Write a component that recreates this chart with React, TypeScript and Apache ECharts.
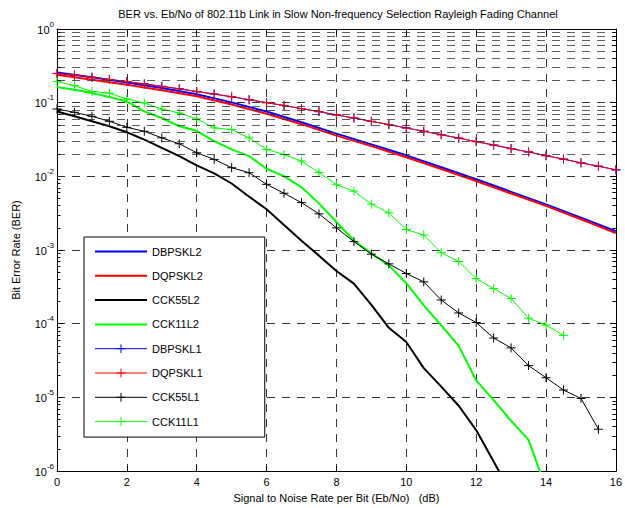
import React, { useEffect, useRef } from 'react';
import * as echarts from 'echarts';

const FONT = 'Liberation Sans, Arial, Helvetica, sans-serif';

const titleText = 'BER vs. Eb/No of 802.11b Link in Slow Non-frequency Selection Rayleigh Fading Channel';
const xName = 'Signal to Noise Rate per Bit (Eb/No)   (dB)';
const yName = 'Bit Error Rate (BER)';

const snrHalf = [0, 0.5, 1, 1.5, 2, 2.5, 3, 3.5, 4, 4.5, 5, 5.5, 6, 6.5, 7, 7.5, 8, 8.5, 9, 9.5, 10, 10.5, 11, 11.5, 12, 12.5, 13, 13.5, 14, 14.5, 15, 15.5, 16];
const snrInt = [0, 1, 2, 3, 4, 5, 6, 7, 8, 9, 10, 11, 12, 13, 14, 15, 16];

const dbpskL2 = [0.257, 0.221, 0.188, 0.158, 0.130, 0.101, 0.0759, 0.0543, 0.038, 0.0272, 0.0193, 0.0133, 0.00912, 0.00617, 0.00417, 0.00275, 0.0018];
const dqpskL2 = [0.239, 0.205, 0.175, 0.147, 0.122, 0.0944, 0.0708, 0.0511, 0.0357, 0.0257, 0.0182, 0.0126, 0.00865, 0.00586, 0.00398, 0.00262, 0.0017];
const cck55L2 = [0.076, 0.0653, 0.0559, 0.0479, 0.0397, 0.0316, 0.0244, 0.0188, 0.0141, 0.011, 0.008, 0.0053, 0.00358, 0.00218, 0.00134, 0.00084, 0.00052, 0.00035, 0.00018, 0.000088, 0.0000565, 0.000025, 0.000014, 0.0000077, 0.0000036, 0.00000135, 0.0000005];
const cck11L2 = [0.163, 0.150, 0.135, 0.119, 0.104, 0.0763, 0.062, 0.0479, 0.0415, 0.030, 0.0232, 0.0188, 0.0127, 0.0101, 0.0071, 0.0043, 0.0024, 0.00135, 0.0009, 0.00062, 0.000355, 0.000178, 0.000095, 0.00005, 0.000017, 0.0000092, 0.0000048, 0.00000265, 0.00000058];
const dbpskL1 = [0.25, 0.236, 0.221, 0.207, 0.193, 0.18, 0.167, 0.154, 0.142, 0.131, 0.12, 0.11, 0.1, 0.0915, 0.0832, 0.0755, 0.0684, 0.0619, 0.0559, 0.0504, 0.0455, 0.0409, 0.0368, 0.033, 0.0297, 0.0266, 0.0239, 0.0214, 0.0191, 0.0171, 0.0153, 0.0137, 0.0123];
const dqpskL1 = [0.248, 0.238, 0.222, 0.206, 0.194, 0.179, 0.166, 0.155, 0.141, 0.131, 0.121, 0.109, 0.1, 0.0918, 0.0828, 0.0758, 0.068, 0.0622, 0.0556, 0.0506, 0.0452, 0.0411, 0.0366, 0.0332, 0.0295, 0.0267, 0.0237, 0.0215, 0.019, 0.0172, 0.0152, 0.0138, 0.0122];
const cck55L1 = [0.0822, 0.074, 0.0653, 0.0559, 0.0463, 0.0409, 0.0333, 0.0277, 0.0209, 0.017, 0.0131, 0.0112, 0.0078, 0.0059, 0.0044, 0.0031, 0.002, 0.0013, 0.00088, 0.00065, 0.00048, 0.00037, 0.00021, 0.00014, 0.000104, 0.000064, 0.000047, 0.000027, 0.0000185, 0.0000126, 0.0000097, 0.0000037];
const cck11L1 = [0.194, 0.17, 0.142, 0.135, 0.112, 0.099, 0.082, 0.0726, 0.0603, 0.0455, 0.0432, 0.0333, 0.0232, 0.0198, 0.0161, 0.0113, 0.0077, 0.0063, 0.0042, 0.0032, 0.0019, 0.0016, 0.00092, 0.0007, 0.00041, 0.0003, 0.00022, 0.000119, 0.000096, 0.0000695];

const legendNames = ['DBPSKL2', 'DQPSKL2', 'CCK55L2', 'CCK11L2', 'DBPSKL1', 'DQPSKL1', 'CCK55L1', 'CCK11L1'];
const markerless = ['DBPSKL2', 'DQPSKL2', 'CCK55L2', 'CCK11L2'];

const decadeExps = [-6, -5, -4, -3, -2, -1];
const mantissas = [2, 3, 4, 5, 6, 7, 8, 9];

const PLUS = 'path://M5,0L5,10M0,5L10,5';

function lineSeries(name: string, xs: number[], ys: number[], color: string, width: number, marker: boolean) {
  return {
    name,
    type: 'line',
    data: ys.map((v, i) => [xs[i], v]),
    lineStyle: { color, width },
    itemStyle: { color, borderColor: color, borderWidth: 1 },
    symbol: marker ? PLUS : 'none',
    symbolSize: 9,
    showSymbol: marker,
    silent: true,
    z: 3,
    emphasis: { disabled: true },
  };
}

export default function App() {
  const ref = useRef<HTMLDivElement>(null);
  useEffect(() => {
    if (!ref.current) return;
    const chart = echarts.init(ref.current, undefined, { renderer: 'svg' });
    const minorVals: number[] = [];
    decadeExps.forEach((d) => mantissas.forEach((m) => minorVals.push(m * Math.pow(10, d))));
    const majorVals = [1e-6, 1e-5, 1e-4, 1e-3, 1e-2, 1e-1, 1];

    const tickSeg = (v: number, x0: number, x1: number) => [{ coord: [x0, v] }, { coord: [x1, v] }];

    const option: any = {
      animation: false,
      textStyle: { fontFamily: FONT },
      graphic: [
        {
          type: 'text',
          x: 338,
          y: 14,
          style: { text: titleText, font: `11px ${FONT}`, fill: '#000', textAlign: 'center', textVerticalAlign: 'middle' },
        },
      ],
      grid: { left: 57, right: 5, top: 29, bottom: 35, containLabel: false },
      legend: {
        data: legendNames.map((n) =>
          markerless.indexOf(n) >= 0
            ? { name: n, itemStyle: { opacity: 0 }, lineStyle: { width: 2 } }
            : { name: n, itemStyle: { borderWidth: 1 }, lineStyle: { width: 1 } }
        ),
        orient: 'vertical',
        left: 84,
        top: 237,
        backgroundColor: '#fff',
        borderColor: '#000',
        borderWidth: 1,
        borderRadius: 0,
        padding: [9, 62, 10, 10],
        itemWidth: 52,
        itemHeight: 11,
        itemGap: 13.3,
        selectedMode: false,
        textStyle: { fontSize: 11, color: '#000', fontFamily: FONT },
      },
      xAxis: [
        {
          type: 'value',
          min: 0,
          max: 16,
          interval: 2,
          position: 'bottom',
          name: xName,
          nameLocation: 'middle',
          nameGap: 18,
          nameTextStyle: { fontSize: 11, color: '#000', fontFamily: FONT },
          axisLine: { show: true, onZero: false, lineStyle: { color: '#000', width: 1 } },
          axisTick: { show: true, inside: true, length: 5, lineStyle: { color: '#000' } },
          axisLabel: { fontSize: 11, color: '#000', margin: 5, fontFamily: FONT },
          splitLine: { show: true, lineStyle: { color: '#000', width: 0.8, type: [8, 7] } },
        },
        {
          type: 'value',
          min: 0,
          max: 16,
          interval: 2,
          position: 'top',
          axisLine: { show: true, onZero: false, lineStyle: { color: '#000', width: 1 } },
          axisTick: { show: true, inside: true, length: 5, lineStyle: { color: '#000' } },
          axisLabel: { show: false },
          splitLine: { show: false },
        },
      ],
      yAxis: [
        {
          type: 'log',
          logBase: 10,
          min: 1e-6,
          max: 1,
          interval: 1,
          position: 'left',
          name: yName,
          nameLocation: 'middle',
          nameGap: 36,
          nameRotate: 90,
          nameTextStyle: { fontSize: 11, color: '#000', fontFamily: FONT },
          axisLine: { show: true, onZero: false, lineStyle: { color: '#000', width: 1 } },
          axisTick: { show: true, inside: true, length: 6, lineStyle: { color: '#000' } },
          axisLabel: {
            margin: 3,
            formatter: (v: number) => `{b|10}{e|${Math.round(Math.log10(v))}}`,
            rich: {
              b: { fontSize: 11, lineHeight: 12, color: '#000', fontFamily: FONT, verticalAlign: 'bottom' },
              e: { fontSize: 8, lineHeight: 8, color: '#000', fontFamily: FONT, padding: [0, 0, 7, 0], verticalAlign: 'bottom' },
            },
          },
          splitLine: { show: true, lineStyle: { color: '#000', width: 0.8, type: [8, 7] } },
        },
        {
          type: 'log',
          logBase: 10,
          min: 1e-6,
          max: 1,
          interval: 1,
          position: 'right',
          axisLine: { show: true, onZero: false, lineStyle: { color: '#000', width: 1 } },
          axisTick: { show: true, inside: true, length: 6, lineStyle: { color: '#000' } },
          axisLabel: { show: false },
          splitLine: { show: false },
        },
      ],
      series: [
        {
          name: 'minorGrid',
          type: 'line',
          data: [],
          silent: true,
          z: 1,
          markLine: {
            silent: true,
            animation: false,
            symbol: ['none', 'none'],
            label: { show: false },
            emphasis: { disabled: true },
            lineStyle: { color: '#333', width: 0.8, type: [8, 7] },
            data: minorVals.map((v) => ({ yAxis: v })),
          },
        },
        {
          name: 'minorTicks',
          type: 'line',
          data: [],
          silent: true,
          z: 2,
          markLine: {
            silent: true,
            animation: false,
            symbol: ['none', 'none'],
            label: { show: false },
            emphasis: { disabled: true },
            lineStyle: { color: '#000', width: 1, type: 'solid' },
            data: [
              ...minorVals.map((v) => tickSeg(v, 0, 0.1)),
              ...minorVals.map((v) => tickSeg(v, 15.9, 16)),
              ...majorVals.map((v) => tickSeg(v, 15.85, 16)),
            ],
          },
        },
        lineSeries('DBPSKL2', snrInt, dbpskL2, '#0000ff', 2, false),
        lineSeries('DQPSKL2', snrInt, dqpskL2, '#ff0000', 2, false),
        lineSeries('CCK55L2', snrHalf, cck55L2, '#000000', 2, false),
        lineSeries('CCK11L2', snrHalf, cck11L2, '#00ff00', 2, false),
        lineSeries('DBPSKL1', snrHalf, dbpskL1, '#0000ff', 1, true),
        lineSeries('DQPSKL1', snrHalf, dqpskL1, '#ff0000', 1, true),
        lineSeries('CCK55L1', snrHalf, cck55L1, '#000000', 1, true),
        lineSeries('CCK11L1', snrHalf, cck11L1, '#00ff00', 1, true),
      ],
    };
    chart.setOption(option);
    return () => chart.dispose();
  }, []);
  return (
    <div
      ref={ref}
      style={{ position: 'fixed', left: 0, top: 0, width: 625, height: 508, background: '#fff' }}
    />
  );
}
